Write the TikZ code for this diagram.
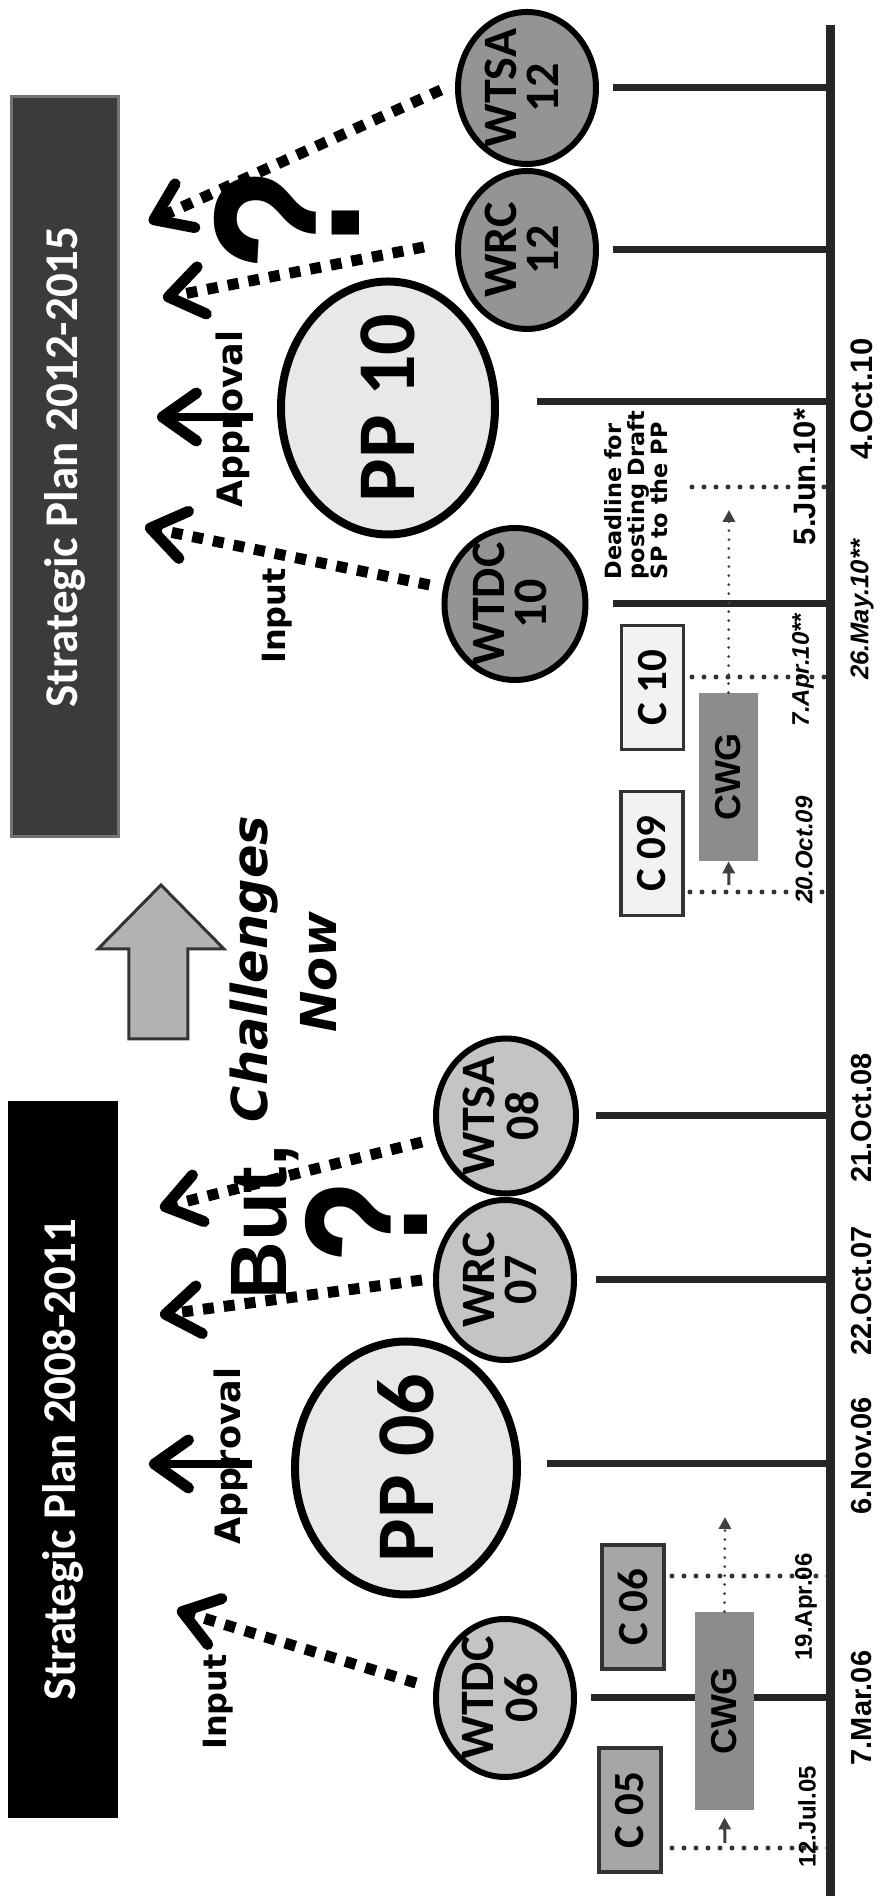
\documentclass[tikz,border=0pt]{standalone}
\usepackage{fontspec}
\usepackage{graphicx}
\setmainfont{Liberation Sans}
\newfontfamily\calib{Carlito}
\newfontfamily\dvs{DejaVu Sans}
\usetikzlibrary{arrows.meta,shapes.geometric,calc}
\newcommand{\fsz}[2]{\fontsize{#1pt}{#2pt}\selectfont}
\newcommand{\twol}[2]{\makebox[0pt]{\raisebox{-2.5pt}{\begin{tabular}{@{}c@{}}#1\\#2\end{tabular}}}}
\begin{document}
\begin{tikzpicture}[x=0.5pt,y=0.5pt,
  tline/.style={line width=4.5pt,draw=black!85},
  tickln/.style={line width=3.5pt,draw=black!85},
  ev/.style={ellipse,draw=black,line width=3pt,inner sep=0pt,font=\calib\bfseries\fsz{24}{18}},
  ev12/.style={ev,fill=black!42},
  ev08/.style={ev,fill=black!23},
  ppev/.style={ellipse,draw=black,line width=4pt,fill=black!9,inner sep=0pt,font=\calib\bfseries\fsz{41}{41}},
  cbox/.style={rectangle,draw=black!80,line width=1.6pt,inner sep=0pt,minimum width=62pt,minimum height=31pt,font=\calib\bfseries\fsz{21.5}{21.5}},
  cwgbox/.style={rectangle,fill=black!45,inner sep=0pt,minimum height=29.5pt,font=\bfseries\fsz{18}{18}},
  barb/.style={-{Straight Barb[length=17pt,width=24pt,line width=5.5pt,round]}},
  dasharr/.style={barb,line width=5.5pt,dash pattern=on 5.5pt off 5pt},
  apparr/.style={barb,line width=4pt},
  dotln/.style={line width=2.5pt,dash pattern=on 0pt off 6pt,line cap=round,draw=black!80},
  thinarr/.style={line width=1.5pt,draw=black!75,-{Triangle[length=6pt,width=6pt]}},
  thindot/.style={thinarr,dash pattern=on 0pt off 4.5pt,line cap=round},
  bigdate/.style={inner sep=0pt,font=\bfseries\fsz{14.5}{14.5}},
  smdate/.style={inner sep=0pt,font=\bfseries\fsz{12}{12}},
  itdate/.style={inner sep=0pt,font=\bfseries\itshape\fsz{12}{12}},
  banner/.style={inner sep=0pt,text=white,font=\calib\bfseries\fsz{23.5}{23.5}},
  lbl/.style={inner sep=0pt,anchor=base}
]
\begin{scope}[rotate=90,transform shape]
\fill[white] (0,0) rectangle (1896,882);
\useasboundingbox (0,0) rectangle (1896,882);

% banners
\node[banner,fill=black,minimum width=358.5pt,minimum height=55pt] (sp1) at (436.5,819) {Strategic Plan 2008-2011};
\node[banner,fill=black!77,draw=black!55,line width=1.5pt,minimum width=370pt,minimum height=53.5pt] (sp2) at (1429,816.5) {Strategic Plan 2012-2015};

% block arrow
\filldraw[fill=black!30,draw=black!80,line width=1.5pt] (857,694) -- (947,694) -- (947,658) -- (1011,721) -- (947,784) -- (947,753) -- (857,753) -- cycle;

% timeline coordinates
\coordinate (tl0) at (0,51);
\coordinate (tl1) at (1871,51);

% date dotted lines
\coordinate (d5jun) at (1409,190);
\coordinate (d7apr) at (1219,190);
\coordinate (d20oct) at (1004,192);
\coordinate (d19apr) at (320,210);
\coordinate (d12jul) at (48,210);
\foreach \c in {d5jun,d7apr,d20oct,d19apr,d12jul}
  \draw[dotln] (\c) -- ($(tl0)!(\c)!(tl1)$);

% ellipses
\node[ev12,minimum width=76pt,minimum height=69pt] (wtsa12) at (1808,355) {\twol{WTSA}{12}};
\node[ev12,minimum width=79pt,minimum height=69pt] (wrc12) at (1646,355) {\twol{WRC}{12}};
\node[ppev,minimum width=126.5pt,minimum height=107pt] (pp10) at (1488,494) {\makebox[0pt]{PP 10}};
\node[ev12,minimum width=76pt,minimum height=70.5pt] (wtdc10) at (1292,367) {\twol{WTDC}{10}};
\node[ev08,minimum width=77.5pt,minimum height=70pt] (wtsa08) at (780,376) {\twol{WTSA}{08}};
\node[ev08,minimum width=80pt,minimum height=69pt] (wrc07) at (616,377) {\twol{WRC}{07}};
\node[ppev,minimum width=126.5pt,minimum height=111pt] (pp06) at (428,476) {\makebox[0pt]{PP 06}};
\node[ev08,minimum width=79pt,minimum height=69pt] (wtdc06) at (198,377) {\twol{WTDC}{06}};

% ticks
\draw[tickln] ($(wtsa12.south)+(0,-14)$) -- ($(tl0)!(wtsa12.south)!(tl1)$);
\draw[tickln] ($(wrc12.south)+(0,-14)$) -- ($(tl0)!(wrc12.south)!(tl1)$);
\draw[tickln] ($(pp10.south)+(6,-38)$) -- ($(tl0)!($(pp10.south)+(6,0)$)!(tl1)$);
\draw[tickln] ($(wtdc10.south)+(0,-25)$) -- ($(tl0)!(wtdc10.south)!(tl1)$);
\draw[tickln] ($(wtsa08.south)+(0,-17)$) -- ($(tl0)!(wtsa08.south)!(tl1)$);
\draw[tickln] ($(wrc07.south)+(0,-19)$) -- ($(tl0)!(wrc07.south)!(tl1)$);
\draw[tickln] ($(pp06.south)+(4,-26)$) -- ($(tl0)!($(pp06.south)+(4,0)$)!(tl1)$);
\draw[tickln] ($(wtdc06.south)+(0,-14)$) -- ($(tl0)!(wtdc06.south)!(tl1)$);

% timeline
\draw[tline] (tl0) -- (tl1);

% CWG and C boxes
\node[cwgbox,minimum width=84pt] (cwg10) at (1119,153.5) {CWG};
\node[cwgbox,minimum width=99pt] (cwg06) at (185,157.5) {CWG};
\node[cbox,fill=black!5] (c10) at (1208.5,229.5) {C 10};
\node[cbox,fill=black!5] (c09) at (1042.5,230) {C 09};
\node[cbox,fill=black!35] (c06) at (289,249) {C 06};
\node[cbox,fill=black!35] (c05) at (86,252) {C 05};

% thin arrows
\coordinate (a10) at (1386,153);
\coordinate (b10) at (1011,153);
\coordinate (a06) at (379,157);
\coordinate (b06) at (53,157);
\draw[thindot] (cwg10.east) -- (a10);
\draw[thinarr] (b10) -- (cwg10.west);
\draw[thindot] (cwg06.east) -- (a06);
\draw[thinarr] (b06) -- ($(cwg06.west)+(-7,0)$);

% dates
\node[inner sep=0pt,font=\bfseries\fsz{15.5}{15.5}] (t4oct) at (1497,20) {4.Oct.10};
\node[inner sep=0pt,font=\bfseries\fsz{15.5}{15.5}] (t5jun) at (1419,77) {5.Jun.10*};
\node[inner sep=0pt,font=\bfseries\itshape\fsz{12.8}{12.8}] (t26may) at (1286,20) {26.May.10**};
\node[itdate] (t7apr) at (1226,79) {7.Apr.10**};
\node[itdate] (t20oct) at (1046,78) {20.Oct.09};
\node[bigdate] (t21oct) at (778,20) {21.Oct.08};
\node[bigdate] (t22oct) at (605,20) {22.Oct.07};
\node[bigdate] (t6nov) at (440,20) {6.Nov.06};
\node[bigdate] (t7mar) at (188,20) {7.Mar.06};
\node[smdate] (t19apr) at (289,76) {19.Apr.06};
\node[smdate] (t12jul) at (79,75) {12.Jul.05};

\node[inner sep=0pt,align=left,font=\dvs\bfseries\fsz{11.2}{11.4}] (dl) at (1401,246) {Deadline for\\posting Draft\\SP to the PP};

% labels
\node[lbl,font=\dvs\bfseries\fsz{17.5}{17.5}] (ap10) at (1477,639) {Approval};
\node[lbl,font=\dvs\bfseries\fsz{17.5}{17.5}] (ap06) at (440,641) {Approval};
\node[lbl,font=\dvs\bfseries\fsz{16}{16}] (in10) at (1280,596) {Input};
\node[lbl,font=\dvs\bfseries\fsz{16}{16}] (in06) at (194,655) {Input};

\node[lbl,font=\bfseries\fsz{40}{40}] (but) at (674,595) {But,};
\node[lbl,font=\dvs\bfseries\itshape\fsz{24.75}{24.75}] (chal) at (927,614) {Challenges};
\node[lbl,font=\dvs\bfseries\itshape\fsz{24.75}{24.75}] (now) at (924,545) {Now};
\node[lbl,font=\bfseries\fsz{87.5}{87.5}] (q08) at (674,454) {\scalebox{0.78}[1]{?}};
\node[lbl,font=\bfseries\fsz{104}{104}] (q12) at (1677,522) {\scalebox{0.82}[1]{?}};

% approval arrows
\coordinate (tp10) at (1479,725);
\coordinate (tp06) at (432,733);
\draw[apparr] ($(pp10.north)+(-9,24)$) -- (tp10);
\draw[apparr] ($(pp06.north)+(4,39)$) -- (tp06);

% dashed input arrows
\coordinate (ti10) at (1369,737);
\coordinate (tr12) at (1598,719);
\coordinate (ts12) at (1674,733);
\coordinate (ts08) at (688,722);
\coordinate (tr07) at (581,722);
\coordinate (ti06) at (286,705);
\draw[dasharr] ($(wtdc10.north)+(19,12)$) -- (ti10);
\draw[dasharr] ($(wrc12.north)+(3,31)$) -- (tr12);
\draw[dasharr] ($(wtsa12.north)+(-2,14)$) -- (ts12);
\draw[dasharr] ($(wtsa08.north)+(-26,11)$) -- (ts08);
\draw[dasharr] ($(wrc07.north)+(0,11)$) -- (tr07);
\draw[dasharr] ($(wtdc06.north)+(15,17)$) -- (ti06);
\end{scope}
\end{tikzpicture}
\end{document}
